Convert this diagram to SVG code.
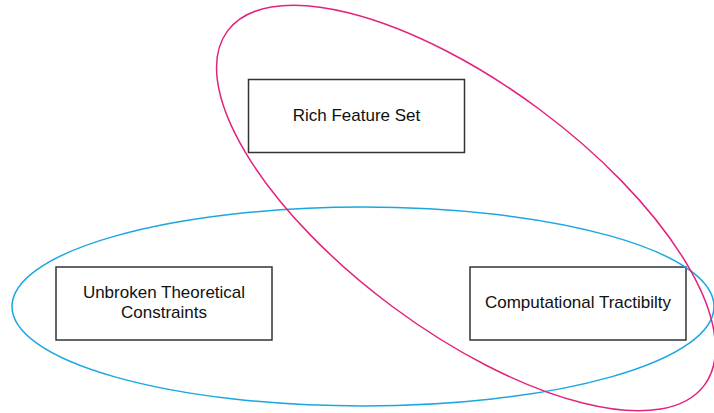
<svg xmlns="http://www.w3.org/2000/svg" width="714" height="413" viewBox="0 0 714 413">
  <style>
    .box { fill: #ffffff; stroke: #333333; stroke-width: 1.5; }
    .label { font-family: "Liberation Sans", Arial, sans-serif; font-size: 17px; fill: #111111; text-anchor: middle; }
    .ring { fill: none; stroke-width: 1.5; }
  </style>
  <rect width="714" height="413" fill="#ffffff"/>

  <g id="node-rich-feature-set">
    <rect class="box" x="248.5" y="79.5" width="216" height="73"/>
    <text class="label" x="356.5" y="121">Rich Feature Set</text>
  </g>
  <g id="node-unbroken-constraints">
    <rect class="box" x="56" y="267" width="216" height="73"/>
    <text class="label" x="164" y="298">Unbroken Theoretical</text>
    <text class="label" x="164" y="318">Constraints</text>
  </g>
  <g id="node-computational-tractibility">
    <rect class="box" x="470" y="267" width="216" height="73"/>
    <text class="label" x="578" y="308">Computational Tractibilty</text>
  </g>

  <g id="connectors">
    <ellipse class="ring" stroke="#1aa7e0" cx="363" cy="306.5" rx="351" ry="99.5"/>
    <ellipse class="ring" stroke="#e2227c" cx="466" cy="208" rx="297" ry="123" transform="rotate(36.6 466 208)"/>
  </g>
</svg>
